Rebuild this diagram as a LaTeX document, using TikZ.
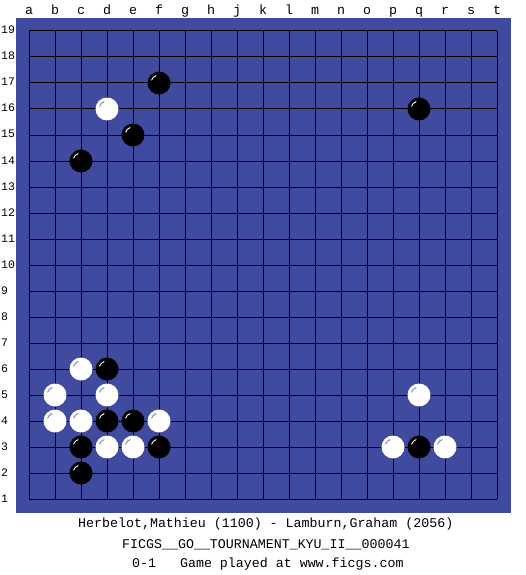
\documentclass[tikz,border=0pt]{standalone}
\usepackage{fontspec}
\setmonofont{Liberation Mono}
\definecolor{board}{RGB}{64,74,158}
\definecolor{whl}{RGB}{120,130,200}
\begin{document}
\begin{tikzpicture}[x=1pt,y=-1pt,
  lab/.style={font=\ttfamily\fontsize{13.3}{13.3}\selectfont, inner sep=0pt, text=black},
  rowlab/.style={font=\ttfamily\fontsize{11.5}{11.5}\selectfont, inner sep=0pt, text=black},
  captext/.style={font=\ttfamily\fontsize{13.3}{13.3}\selectfont, inner sep=0pt, anchor=west, text=black},
  bstone/.style={circle, fill=black, minimum size=23pt, inner sep=0pt,
    path picture={\draw[white,line width=0.9pt] ([shift={(160:8pt)}]path picture bounding box.center) arc[start angle=160, end angle=110, radius=8pt];}},
  wstone/.style={circle, fill=white, minimum size=23pt, inner sep=0pt,
    path picture={\draw[whl,line width=0.9pt] ([shift={(160:8pt)}]path picture bounding box.center) arc[start angle=160, end angle=110, radius=8pt];}},
]
\useasboundingbox[fill=white] (0,0) rectangle (525,575);
\fill[board] (16,18) rectangle (511,513);
\foreach \i in {0,...,18} {
  \draw[black,line width=1pt] (29+26*\i,31) -- (29+26*\i,499);
  \draw[black,line width=1pt] (29,31+26*\i) -- (497,31+26*\i);
}
% column labels
\foreach \l [count=\i from 0] in {a,b,c,d,e,f,g,h,j,k,l,m,n,o,p,q,r,s,t}
  \node[lab,anchor=base] (col\l) at (29+26*\i,15) {\l};
% row labels
\foreach \r in {1,...,19}
  \node[rowlab,anchor=base west] (row\r) at (1,{34+26*(19-\r)}) {\r};
% stones: x = 29+26*(col index), y = 31+26*(19-row)
\node[bstone] (f17) at (159,83) {};
\node[wstone] (d16) at (107,109) {};
\node[bstone] (e15) at (133,135) {};
\node[bstone] (c14) at (81,161) {};
\node[bstone] (q16) at (419,109) {};
\node[wstone] (c6) at (81,369) {};
\node[bstone] (d6) at (107,369) {};
\node[wstone] (b5) at (55,395) {};
\node[wstone] (d5) at (107,395) {};
\node[wstone] (q5) at (419,395) {};
\node[wstone] (b4) at (55,421) {};
\node[wstone] (c4) at (81,421) {};
\node[bstone] (d4) at (107,421) {};
\node[bstone] (e4) at (133,421) {};
\node[wstone] (f4) at (159,421) {};
\node[bstone] (c3) at (81,447) {};
\node[wstone] (d3) at (107,447) {};
\node[wstone] (e3) at (133,447) {};
\node[bstone] (f3) at (159,447) {};
\node[wstone] (p3) at (393,447) {};
\node[bstone] (q3) at (419,447) {};
\node[wstone] (r3) at (445,447) {};
\node[bstone] (c2) at (81,473) {};
% captions
\node[captext] (t1) at (78,524) {Herbelot,Mathieu (1100) - Lamburn,Graham (2056)};
\node[captext] (t2) at (122,545) {FICGS\_\_GO\_\_TOURNAMENT\_KYU\_II\_\_000041};
\node[captext] (t3) at (132,564) {0-1\ \ \ Game played at www.ficgs.com};
\end{tikzpicture}
\end{document}
